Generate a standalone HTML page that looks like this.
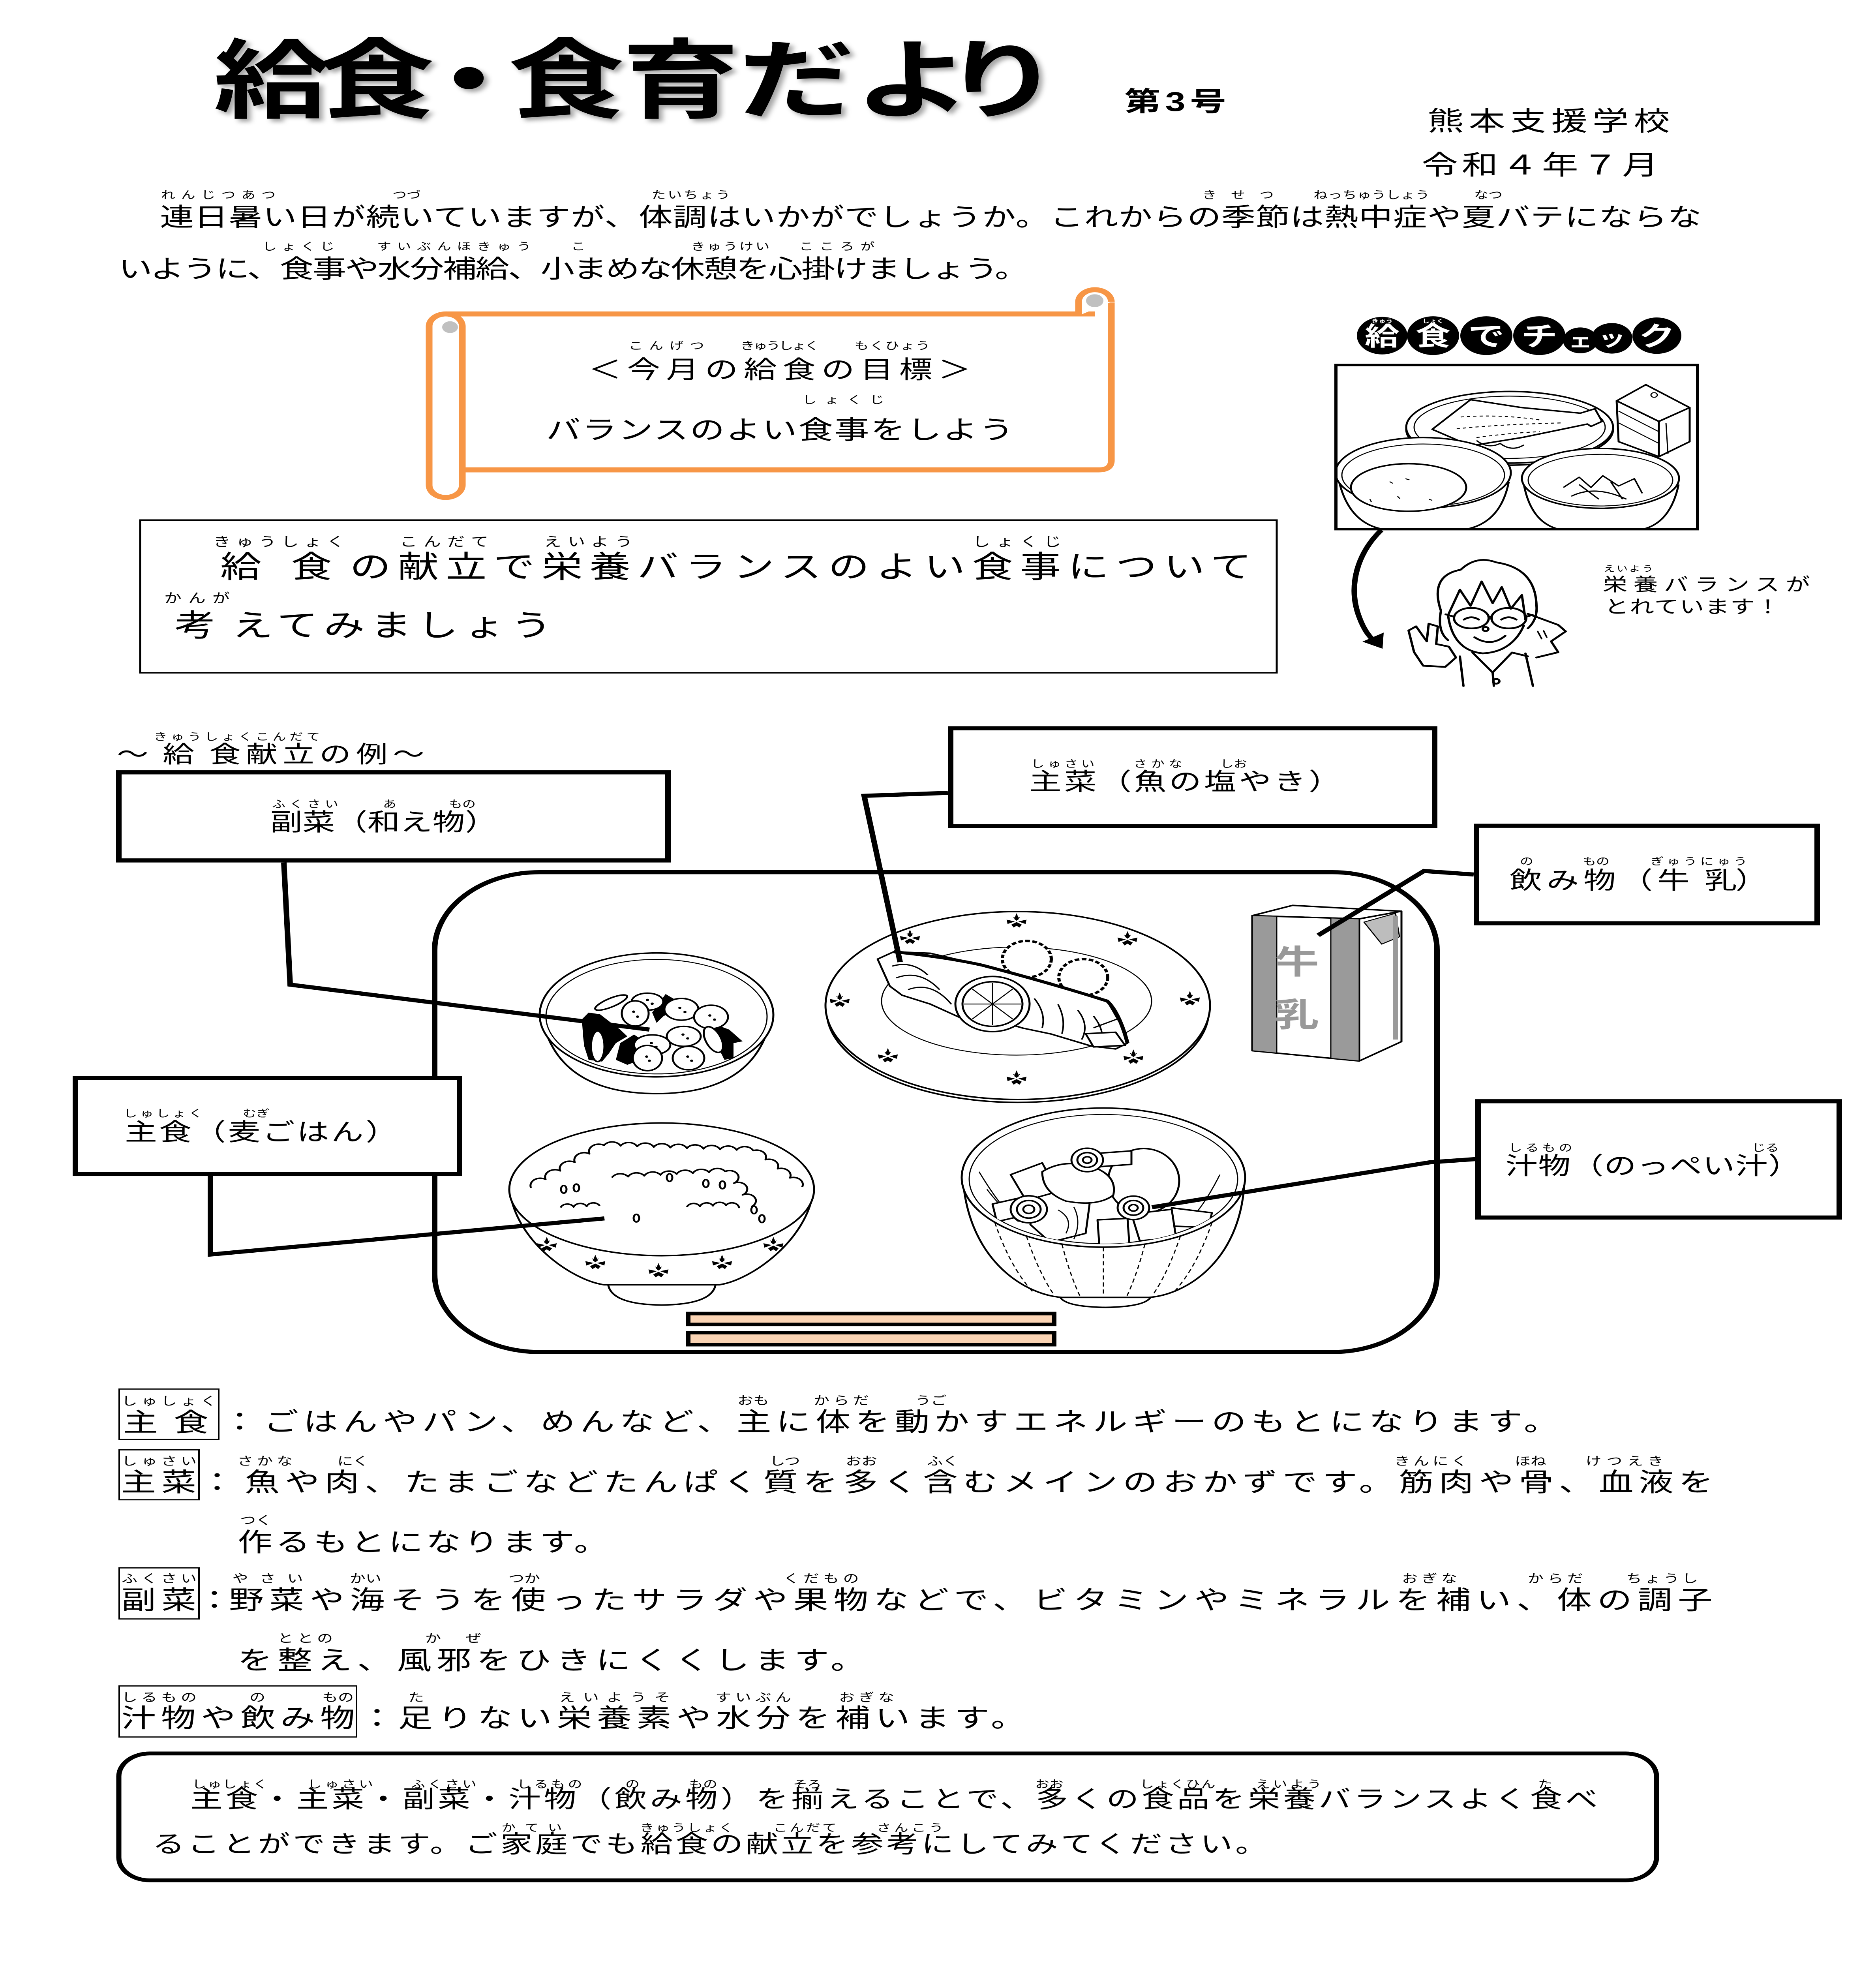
<!DOCTYPE html>
<html><head><meta charset="utf-8">
<style>
html,body{margin:0;padding:0;background:#fff;width:100%;height:100%;overflow:hidden;}
svg{display:block;position:absolute;left:0;top:0;width:100vw;height:100vh;}
text{font-family:"Liberation Sans","Noto Sans CJK JP",sans-serif;fill:#000;}
.r text, text.r{text-anchor:middle;}
</style></head><body>
<svg xmlns="http://www.w3.org/2000/svg" xmlns:xlink="http://www.w3.org/1999/xlink" viewBox="0 0 4752 6722" preserveAspectRatio="none" overflow="hidden">
<defs>
<filter id="sh" x="-5%" y="-10%" width="115%" height="140%"><feDropShadow dx="10" dy="10" stdDeviation="7" flood-color="#000" flood-opacity="0.35"/></filter>
<symbol id="mo" viewBox="-30 -30 60 60" width="60" height="60"><path d="M0,-26 L5,-10 L0,-5 L-5,-10Z M-24,-6 L-7,-1 L-22,6Z M24,-6 L7,-1 L22,6Z M-12,10 L0,2 L12,10 L7,18 L0,12 L-7,18Z M-8,-16 L-3,-12 M8,-16 L3,-12" fill="#000" stroke="#000" stroke-width="2"/></symbol>
<clipPath id="pb"><rect x="3385" y="1244" width="914" height="557"/></clipPath>
<clipPath id="sb"><ellipse cx="2795" cy="4015" rx="340" ry="220"/></clipPath>
<clipPath id="rb"><ellipse cx="1676" cy="4050" rx="380" ry="220"/></clipPath>
</defs>
<rect width="4752" height="6722" fill="#fff"/>

<!-- TITLE -->
<text font-size="295" font-weight="bold" filter="url(#sh)" x="541 806 1040 1287 1577 1870 2165 2390" y="378">給食・食育だより</text>
<text x="2848" y="378" font-size="92" font-weight="bold" textLength="258" lengthAdjust="spacing">第3号</text>
<text x="3616" y="444" font-size="92" textLength="614" lengthAdjust="spacing">熊本支援学校</text>
<text x="3601" y="594" font-size="92" textLength="600" lengthAdjust="spacing">令和４年７月</text>

<!-- INTRO -->
<text x="405" y="770" font-size="86" textLength="3905" lengthAdjust="spacing">連日暑い日が続いていますが、体調はいかがでしょうか。これからの季節は熱中症や夏バテにならな</text>
<text x="300" y="946" font-size="86" textLength="2306" lengthAdjust="spacing">いように、食事や水分補給、小まめな休憩を心掛けましょう。</text>
<g class="r" font-size="36">
<text x="553" y="676" textLength="290">れんじつあつ</text>
<text x="1030" y="676">つづ</text>
<text x="1750" y="676" textLength="199">たいちょう</text>
<text x="3136" y="676" textLength="181">きせつ</text>
<text x="3474" y="676" textLength="294">ねっちゅうしょう</text>
<text x="3770" y="676">なつ</text>
<text x="756" y="852" textLength="182">しょくじ</text>
<text x="1150" y="852" textLength="390">すいぶんほきゅう</text>
<text x="1465" y="852">こ</text>
<text x="1850" y="852" textLength="199">きゅうけい</text>
<text x="2120" y="852" textLength="191">こころが</text>
</g>

<!-- SCROLL -->
<g fill="none" stroke="#F79646" stroke-width="17" stroke-linejoin="round">
<path d="M1129,1069 H2773 M2815,1030 V1568 Q2815,1600 2783,1600 H1171"/>
<path d="M2732,1075 V1028 A41.5,41.5 0 0 1 2815,1028" fill="#fff"/>
<rect x="1087" y="1069" width="84" height="625" rx="42" fill="#fff"/>
</g>
<circle cx="2773" cy="1024" r="22" fill="#C0C0C0"/>
<circle cx="1140" cy="1114" r="20" fill="#C0C0C0"/>
<text x="1490" y="1288" font-size="84" textLength="970" lengthAdjust="spacing">＜今月の給食の目標＞</text>
<text x="1383" y="1494" font-size="88" textLength="1185" lengthAdjust="spacing">バランスのよい食事をしよう</text>
<g class="r" font-size="36">
<text x="1688" y="1190" textLength="191">こんげつ</text>
<text x="1975" y="1190" textLength="199">きゅうしょく</text>
<text x="2260" y="1190" textLength="191">もくひょう</text>
<text x="2136" y="1374" textLength="207">しょくじ</text>
</g>

<!-- BOX 2 -->
<rect x="355" y="1771" width="2879" height="520" fill="none" stroke="#000" stroke-width="5"/>
<text x="558" y="1966" font-size="104">給</text>
<text x="737" y="1966" font-size="104">食</text>
<text x="886" y="1966" font-size="104" textLength="2284" lengthAdjust="spacing">の献立で栄養バランスのよい食事について</text>
<text x="442" y="2166" font-size="104">考</text>
<text x="588" y="2166" font-size="104" textLength="810" lengthAdjust="spacing">えてみましょう</text>
<g class="r" font-size="44">
<text x="706" y="1860" textLength="332">きゅうしょく</text>
<text x="1125" y="1860" textLength="224">こんだて</text>
<text x="1490" y="1860" textLength="224">えいよう</text>
<text x="2576" y="1860" textLength="224">しょくじ</text>
<text x="499" y="2052" textLength="166">かんが</text>
</g>

<!-- BADGE -->
<g fill="#000">
<circle cx="3501" cy="1143" r="64"/><circle cx="3630" cy="1143" r="66"/><circle cx="3765" cy="1143" r="66"/><circle cx="3899" cy="1143" r="66"/><circle cx="4003" cy="1159" r="44"/><circle cx="4083" cy="1152" r="52"/><circle cx="4197" cy="1143" r="62"/>
</g>
<g class="r" font-weight="bold">
<text x="3501" y="1176" font-size="88" style="fill:#fff">給</text>
<text x="3630" y="1176" font-size="88" style="fill:#fff">食</text>
<text x="3765" y="1178" font-size="92" style="fill:#fff">で</text>
<text x="3899" y="1178" font-size="92" style="fill:#fff">チ</text>
<text x="4003" y="1182" font-size="62" style="fill:#fff">ェ</text>
<text x="4083" y="1178" font-size="70" style="fill:#fff">ッ</text>
<text x="4197" y="1178" font-size="92" style="fill:#fff">ク</text>
<text x="3501" y="1100" font-size="18" style="fill:#fff">きゅう</text>
<text x="3630" y="1100" font-size="18" style="fill:#fff">しょく</text>
</g>

<!-- PICTURE BOX -->
<g clip-path="url(#pb)" stroke="#000" stroke-width="5" fill="#fff" stroke-linejoin="round">
<ellipse cx="3824" cy="1462" rx="262" ry="122"/>
<ellipse cx="3824" cy="1455" rx="262" ry="122"/>
<ellipse cx="3824" cy="1455" rx="242" ry="106" fill="none" stroke-width="3"/>
<polygon points="3628,1462 3725,1361 3855,1388 4003,1407 4040,1392 4058,1435 4030,1452 4021,1444 3855,1490 3725,1518"/>
<path d="M3700,1420 Q3800,1410 3900,1430 M3690,1460 Q3800,1445 3960,1440 M3740,1490 Q3820,1475 3900,1470" fill="none" stroke-width="3" stroke-dasharray="8 8"/>
<path d="M3740,1500 Q3770,1530 3800,1510 Q3830,1540 3860,1515" fill="none" stroke-width="4"/>
<polygon points="4095,1365 4169,1310 4280,1388 4202,1435"/>
<polygon points="4095,1365 4202,1435 4202,1555 4100,1504"/>
<polygon points="4202,1435 4280,1388 4280,1504 4202,1555"/>
<path d="M4100,1400 L4202,1470 M4100,1440 L4202,1510 M4220,1440 L4225,1545" fill="none" stroke-width="3"/>
<circle cx="4190" cy="1345" r="8" fill="none" stroke-width="3"/>
<path d="M3860,1650 Q3880,1790 3960,1805 L4150,1805 Q4230,1790 4252,1650" />
<ellipse cx="4054" cy="1629" rx="199" ry="102"/>
<ellipse cx="4054" cy="1635" rx="183" ry="88" fill="none" stroke-width="3"/>
<path d="M3960,1660 L4000,1625 L4030,1660 L4060,1620 L4100,1655 L4140,1630 L4160,1680 M3980,1690 Q4040,1650 4120,1700 M4000,1650 L4050,1700 M4080,1640 L4110,1700" fill="none" stroke-width="4"/>
<path d="M3392,1640 Q3420,1795 3520,1805 L3700,1805 Q3800,1790 3822,1640"/>
<ellipse cx="3605" cy="1610" rx="222" ry="120"/>
<ellipse cx="3605" cy="1618" rx="206" ry="106" fill="none" stroke-width="3"/>
<ellipse cx="3568" cy="1660" rx="146" ry="81"/>
<path d="M3520,1640 l8,6 M3560,1630 l10,4 M3540,1690 l6,8 M3620,1700 l8,4 M3470,1700 l4,10" stroke-width="3"/>
</g>
<rect x="3384" y="1243" width="916" height="559" fill="none" stroke="#000" stroke-width="8"/>

<!-- ARROW -->
<path d="M3499,1805 C3440,1880 3415,1990 3440,2090 C3450,2130 3462,2158 3476,2176" stroke="#000" stroke-width="14" fill="none"/>
<polygon points="3451,2185 3505,2154 3502,2209" fill="#000"/>

<!-- CHARACTER -->
<g fill="none" stroke="#000" stroke-width="6" stroke-linecap="round" stroke-linejoin="round">
<path d="M3650,2080 Q3620,1960 3700,1940 Q3740,1890 3790,1915 Q3890,1935 3892,2063 Q3895,2110 3870,2140"/>
<path d="M3668,2095 L3698,2008 L3725,2063 L3753,1980 L3781,2054 L3804,1999 L3827,2073 L3855,2026 L3864,2110"/>
<path d="M3668,2095 Q3680,2215 3756,2225 Q3830,2220 3860,2130"/>
<ellipse cx="3727" cy="2105" rx="44" ry="35"/>
<ellipse cx="3822" cy="2105" rx="44" ry="35"/>
<path d="M3771,2100 L3778,2100 M3683,2100 L3662,2092 M3866,2100 L3882,2094"/>
<path d="M3708,2110 Q3727,2094 3746,2110 M3803,2110 Q3822,2094 3841,2110"/>
<circle cx="3763" cy="2142" r="7"/>
<path d="M3735,2170 Q3776,2205 3813,2165"/>
<path d="M3870,2090 L3947,2128 L3966,2150 L3929,2184 L3947,2221 L3892,2239"/>
<path d="M3650,2080 Q3640,2150 3668,2180"/>
<path d="M3605,2267 L3582,2221 L3568,2147 L3587,2133 L3614,2184 L3619,2124 L3642,2133 L3638,2193 L3670,2202 L3688,2239 L3661,2271 Z"/>
<path d="M3698,2235 L3707,2336 M3730,2222 L3781,2290 L3830,2222 M3781,2290 L3784,2336 M3864,2225 L3883,2336 M3830,2222 L3870,2235"/>
<circle cx="3790" cy="2320" r="8"/>
<path d="M3895,2150 l10,25 M3910,2148 l8,22" stroke-width="4"/>
</g>
<text x="4060" y="2012" font-size="62" textLength="525" lengthAdjust="spacing">栄養バランスが</text>
<text x="4064" y="2088" font-size="62" textLength="445" lengthAdjust="spacing">とれています！</text>
<text class="r" x="4125" y="1946" font-size="28" textLength="125">えいよう</text>

<!-- MENU EXAMPLE TITLE -->
<text x="296" y="2597" font-size="80" textLength="196" lengthAdjust="spacing">〜給</text>
<text x="530" y="2597" font-size="80" textLength="545" lengthAdjust="spacing">食献立の例〜</text>
<text class="r" x="600" y="2521" font-size="34" textLength="421">きゅうしょくこんだて</text>

<!-- TRAY -->
<rect x="1101" y="2970" width="2539" height="1634" rx="265" fill="none" stroke="#000" stroke-width="14"/>

<!-- AEMONO BOWL -->
<g stroke="#000" stroke-width="5" fill="#fff" stroke-linejoin="round">
<path d="M1375,3480 Q1420,3724 1663,3724 Q1906,3724 1951,3480"/>
<ellipse cx="1663" cy="3456" rx="296" ry="211"/>
<ellipse cx="1663" cy="3462" rx="280" ry="195" fill="none" stroke-width="3"/>
<g fill="#000" stroke="none">
<polygon points="1474,3471 1491,3448 1520,3454 1548,3483 1571,3506 1589,3529 1560,3552 1543,3586 1525,3615 1491,3609 1480,3563 1477,3529"/>
<polygon points="1686,3385 1709,3403 1738,3397 1744,3420 1681,3460 1663,3483 1652,3448"/>
<polygon points="1801,3483 1847,3506 1881,3546 1858,3552 1858,3603 1835,3609 1818,3563"/>
<polygon points="1571,3552 1606,3523 1652,3563 1623,3609 1589,3626 1560,3609"/>
</g>
<ellipse cx="1548" cy="3414" rx="46" ry="14" transform="rotate(-30 1548 3414)"/>
<ellipse cx="1640" cy="3411" rx="40" ry="29"/>
<ellipse cx="1609" cy="3451" rx="34" ry="43"/>
<ellipse cx="1726" cy="3437" rx="43" ry="37"/>
<ellipse cx="1801" cy="3463" rx="43" ry="40"/>
<ellipse cx="1732" cy="3529" rx="43" ry="34"/>
<ellipse cx="1514" cy="3563" rx="17" ry="52"/>
<ellipse cx="1807" cy="3540" rx="20" ry="46" transform="rotate(-20 1807 3540)"/>
<ellipse cx="1652" cy="3558" rx="46" ry="34"/>
<ellipse cx="1640" cy="3603" rx="37" ry="43"/>
<ellipse cx="1744" cy="3603" rx="40" ry="40"/>
<g fill="#000" stroke="none">
<circle cx="1640" cy="3405" r="4"/><circle cx="1652" cy="3418" r="4"/><circle cx="1605" cy="3445" r="4"/><circle cx="1615" cy="3462" r="4"/><circle cx="1722" cy="3432" r="4"/><circle cx="1735" cy="3446" r="4"/><circle cx="1798" cy="3458" r="4"/><circle cx="1810" cy="3472" r="4"/><circle cx="1730" cy="3523" r="4"/><circle cx="1742" cy="3536" r="4"/><circle cx="1650" cy="3552" r="4"/><circle cx="1662" cy="3565" r="4"/><circle cx="1638" cy="3598" r="4"/><circle cx="1645" cy="3612" r="4"/><circle cx="1742" cy="3598" r="4"/><circle cx="1752" cy="3612" r="4"/>
</g>
</g>

<!-- FISH PLATE -->
<g stroke="#000" stroke-width="5" fill="#fff" stroke-linejoin="round">
<ellipse cx="2578" cy="3442" rx="484" ry="312"/>
<ellipse cx="2578" cy="3424" rx="487" ry="320"/>
<ellipse cx="2575" cy="3409" rx="342" ry="184" fill="none" stroke-width="3"/>
<circle cx="2601" cy="3266" r="62" stroke-dasharray="12 6" stroke-width="8"/>
<circle cx="2744" cy="3328" r="62" stroke-dasharray="12 6" stroke-width="8"/>
<polygon points="2223,3266 2264,3241 2356,3246 2489,3287 2662,3348 2805,3409 2836,3481 2856,3552 2826,3572 2764,3562 2662,3521 2591,3501 2540,3481 2458,3481 2356,3419 2285,3389 2254,3358"/>
<path d="M2264,3241 Q2400,3260 2489,3287 Q2662,3348 2805,3409 Q2836,3450 2856,3552" fill="none" stroke-width="10"/>
<path d="M2260,3290 Q2310,3270 2350,3320 M2270,3330 Q2330,3300 2380,3370 M2300,3370 Q2360,3340 2410,3420 M2620,3400 Q2650,3450 2640,3500 M2680,3420 Q2700,3470 2690,3520 M2730,3440 Q2760,3490 2740,3540 M2770,3460 Q2800,3510 2790,3560 M2770,3500 L2830,3470" fill="none" stroke-width="4"/>
<polygon points="2750,3520 2826,3515 2850,3560 2770,3565"/>
<circle cx="2514" cy="3419" r="94"/>
<circle cx="2514" cy="3419" r="76" fill="none"/>
<path d="M2514,3419 L2586,3419 M2514,3419 L2565,3470 M2514,3419 L2514,3491 M2514,3419 L2463,3470 M2514,3419 L2442,3419 M2514,3419 L2463,3368 M2514,3419 L2514,3347 M2514,3419 L2565,3368" stroke-width="3"/>
</g>
<use xlink:href="#mo" x="2545" y="3109"/><use xlink:href="#mo" x="2826" y="3170"/><use xlink:href="#mo" x="2984" y="3374"/><use xlink:href="#mo" x="2841" y="3573"/><use xlink:href="#mo" x="2545" y="3644"/><use xlink:href="#mo" x="2219" y="3568"/><use xlink:href="#mo" x="2097" y="3379"/><use xlink:href="#mo" x="2275" y="3165"/>

<!-- MILK CARTON -->
<g stroke="#000" stroke-width="5" stroke-linejoin="round">
<polygon points="3172,3118 3274,3083 3550,3103 3443,3129" fill="#fff"/>
<polygon points="3443,3129 3550,3103 3550,3547 3443,3613" fill="#fff"/>
<polygon points="3172,3118 3443,3129 3443,3613 3172,3578" fill="#fff"/>
<polygon points="3172,3118 3234,3120 3234,3586 3172,3578" fill="#9a9a9a" stroke-width="3"/>
<polygon points="3371,3126 3443,3129 3443,3613 3371,3604" fill="#9a9a9a" stroke-width="3"/>
<polygon points="3455,3140 3535,3110 3545,3190 3500,3215" fill="#bdbdbd" stroke-width="3"/>
<path d="M3535,3120 L3535,3540" stroke="#9a9a9a" stroke-width="12"/>
</g>
<text class="r" x="3285" y="3315" font-size="112" font-weight="bold" style="fill:#999">牛</text>
<text class="r" x="3285" y="3495" font-size="112" font-weight="bold" style="fill:#999">乳</text>

<!-- RICE BOWL -->
<g stroke="#000" stroke-width="5" fill="#fff" stroke-linejoin="round">
<path d="M1540,4370 Q1545,4442 1676,4444 Q1808,4442 1813,4370"/>
<path d="M1292,4060 C1310,4230 1450,4360 1530,4375 L1822,4375 C1900,4360 2040,4230 2060,4060"/>
<ellipse cx="1676" cy="4050" rx="386" ry="226"/>
<g clip-path="url(#rb)" fill="none" stroke-width="5">
<path d="M1345,4045 a25,25 0 0 1 37,-29 a25,25 0 0 1 37,-29 a25,25 0 0 1 37,-29 a25,25 0 0 1 37,-29 a25,25 0 0 1 37,-29 a24,24 0 0 1 42,2 a24,24 0 0 1 42,2 a24,24 0 0 1 42,2 a24,24 0 0 1 42,2 a24,24 0 0 1 42,2 a24,24 0 0 1 42,2 a24,24 0 0 1 42,2 a24,24 0 0 1 42,2 a24,24 0 0 1 42,2 a24,24 0 0 1 31,31 a24,24 0 0 1 31,31 a24,24 0 0 1 31,31 a24,24 0 0 1 31,31"/>
<path d="M1550,4010 a24,24 0 0 1 41,-3 a24,24 0 0 1 41,-3 a24,24 0 0 1 41,-3 a24,24 0 0 1 41,-3 a24,24 0 0 1 41,-3 a24,24 0 0 1 41,-3 a24,24 0 0 1 41,-3 a22,22 0 0 1 22,40 a22,22 0 0 1 22,40 a22,22 0 0 1 22,40"/>
<path d="M1420,4112 a18,18 0 0 1 33,-2 a18,18 0 0 1 33,-2 a18,18 0 0 1 33,-2"/>
<path d="M1740,4110 a18,18 0 0 1 33,-2 a18,18 0 0 1 33,-2 a18,18 0 0 1 33,-2 a18,18 0 0 1 33,10"/>
<ellipse cx="1428" cy="4050" rx="7" ry="13"/><ellipse cx="1460" cy="4045" rx="7" ry="13"/><ellipse cx="1612" cy="4148" rx="7" ry="13"/><ellipse cx="1696" cy="4010" rx="7" ry="13"/><ellipse cx="1788" cy="4030" rx="7" ry="13"/><ellipse cx="1830" cy="4035" rx="7" ry="13"/><ellipse cx="1910" cy="4120" rx="7" ry="13"/><ellipse cx="1930" cy="4150" rx="7" ry="13"/>
</g>
</g>
<use xlink:href="#mo" x="1355" y="4211"/><use xlink:href="#mo" x="1478" y="4272"/><use xlink:href="#mo" x="1638" y="4300"/><use xlink:href="#mo" x="1799" y="4272"/><use xlink:href="#mo" x="1929" y="4211"/>

<!-- SOUP BOWL -->
<g stroke="#000" stroke-width="5" fill="#fff" stroke-linejoin="round">
<path d="M2683,4410 Q2690,4450 2800,4452 Q2910,4450 2917,4410"/>
<path d="M2440,4030 C2460,4300 2600,4410 2690,4418 L2910,4418 C3000,4410 3140,4300 3152,4030"/>
<g fill="none" stroke-width="3" stroke-dasharray="14 10">
<path d="M2520,4163 Q2560,4320 2620,4405"/><path d="M2600,4209 Q2630,4330 2670,4410"/><path d="M2690,4237 Q2710,4340 2735,4412"/><path d="M2795,4247 L2795,4415"/><path d="M2900,4237 Q2880,4340 2855,4412"/><path d="M2990,4209 Q2960,4330 2920,4410"/><path d="M3070,4163 Q3030,4320 2970,4405"/>
</g>
<ellipse cx="2795" cy="4010" rx="359" ry="237"/>
<ellipse cx="2795" cy="4015" rx="340" ry="220" fill="none" stroke-width="3"/>
<g clip-path="url(#sb)">
<path d="M2480,3990 Q2520,4080 2560,4140 M2500,4050 Q2540,4120 2580,4160 M3090,4000 Q3060,4080 3030,4130" fill="none" stroke-width="3"/>
<ellipse cx="2897" cy="4021" rx="90" ry="110"/>
<polygon points="2560,4000 2640,3960 2680,4060 2600,4090"/>
<polygon points="2620,4080 2700,4050 2760,4100 2750,4200 2660,4230 2610,4170"/>
<path d="M2640,3990 Q2700,3940 2780,3980 Q2830,4010 2820,4070 Q2780,4110 2700,4090 Q2640,4060 2640,3990Z"/>
<polygon points="2764,3929 2866,3919 2866,3965 2764,3975"/>
<polygon points="2514,4100 2580,4080 2590,4140 2525,4160"/>
<polygon points="2968,4113 3070,4130 3060,4180 2968,4175"/>
<polygon points="2780,4154 2856,4149 2861,4241 2785,4246"/>
<polygon points="2866,4134 2968,4118 2979,4215 2887,4225"/>
<circle cx="2606" cy="4118" r="46"/><circle cx="2606" cy="4118" r="30" fill="none"/><circle cx="2606" cy="4118" r="14" fill="none"/>
<circle cx="2871" cy="4113" r="40"/><circle cx="2871" cy="4113" r="25" fill="none"/><circle cx="2871" cy="4113" r="11" fill="none"/>
<circle cx="2754" cy="3950" r="40"/><circle cx="2754" cy="3950" r="25" fill="none"/><circle cx="2754" cy="3950" r="11" fill="none"/>
<path d="M2680,4120 Q2720,4150 2700,4200 M2720,4110 Q2740,4160 2720,4220" fill="none" stroke-width="3"/>
</g>
</g>

<!-- CHOPSTICKS -->
<rect x="1743" y="4473" width="927" height="37" fill="#FBD4B4" stroke="#000" stroke-width="12"/>
<rect x="1743" y="4538" width="927" height="41" fill="#FBD4B4" stroke="#000" stroke-width="12"/>

<!-- MENU BOXES -->
<g fill="#fff" stroke="#000" stroke-width="14">
<rect x="301" y="2630" width="1391" height="300"/>
<rect x="191" y="3671" width="973" height="327"/>
<rect x="2408" y="2480" width="1226" height="333"/>
<rect x="3740" y="2812" width="863" height="332"/>
<rect x="3744" y="3750" width="915" height="396"/>
</g>
<!-- CONNECTORS -->
<g fill="none" stroke="#000" stroke-width="14" stroke-linejoin="miter">
<polyline points="719,2937 735,3353 1645,3506"/>
<polyline points="533,4005 533,4272 1531,4149"/>
<polyline points="2401,2700 2189,2710 2280,3276"/>
<polyline points="3733,2978 3607,2966 3339,3185"/>
<polyline points="3737,3947 3622,3958 2918,4111"/>
</g>
<text x="684" y="2828" font-size="82" textLength="576" lengthAdjust="spacing">副菜（和え物）</text>
<text x="316" y="3883" font-size="82" textLength="692" lengthAdjust="spacing">主食（麦ごはん）</text>
<text x="2607" y="2690" font-size="82" textLength="790" lengthAdjust="spacing">主菜（魚の塩やき）</text>
<text x="3824" y="3026" font-size="82" textLength="456" lengthAdjust="spacing">飲み物（牛</text>
<text x="4318" y="3026" font-size="82" textLength="160" lengthAdjust="spacing">乳）</text>
<text x="3813" y="3998" font-size="82" textLength="748" lengthAdjust="spacing">汁物（のっぺい汁）</text>
<g class="r" font-size="34">
<text x="773" y="2750" textLength="168">ふくさい</text><text x="987" y="2750">あ</text><text x="1171" y="2750">もの</text>
<text x="413" y="3803" textLength="199">しゅしょく</text><text x="649" y="3803">むぎ</text>
<text x="2692" y="2613" textLength="161">しゅさい</text><text x="2933" y="2613" textLength="123">さかな</text><text x="3125" y="2613">しお</text>
<text x="3867" y="2945">の</text><text x="4043" y="2945">もの</text><text x="4303" y="2945" textLength="245">ぎゅうにゅう</text>
<text x="3902" y="3920" textLength="161">しるもの</text><text x="4472" y="3920">じる</text>
</g>

<!-- DEFINITIONS -->
<g fill="none" stroke="#000" stroke-width="4">
<rect x="302" y="4730" width="252" height="172"/>
<rect x="302" y="4937" width="202" height="170"/>
<rect x="302" y="5339" width="202" height="174"/>
<rect x="302" y="5741" width="601" height="174"/>
</g>
<g font-size="88">
<text x="312 440" y="4874">主食</text>
<text x="563" y="4872">：</text>
<text x="668" y="4872" textLength="3280" lengthAdjust="spacing">ごはんやパン、めんなど、主に体を動かすエネルギーのもとになります。</text>
<text x="307" y="5078" textLength="190" lengthAdjust="spacing">主菜</text>
<text x="506" y="5078">：</text>
<text x="620" y="5078" textLength="3720" lengthAdjust="spacing">魚や肉、たまごなどたんぱく質を多く含むメインのおかずです。筋肉や骨、血液を</text>
<text x="602" y="5282" textLength="940" lengthAdjust="spacing">作るもとになります。</text>
<text x="307" y="5479" textLength="190" lengthAdjust="spacing">副菜</text>
<text x="499" y="5479">：</text>
<text x="580" y="5479" textLength="3758" lengthAdjust="spacing">野菜や海そうを使ったサラダや果物などで、ビタミンやミネラルを補い、体の調子</text>
<text x="602" y="5684" textLength="1590" lengthAdjust="spacing">を整え、風邪をひきにくくします。</text>
<text x="307" y="5881" textLength="592" lengthAdjust="spacing">汁物や飲み物</text>
<text x="911" y="5881">：</text>
<text x="1008" y="5881" textLength="1590" lengthAdjust="spacing">足りない栄養素や水分を補います。</text>
</g>
<g class="r" font-size="40">
<text x="428" y="4785" textLength="240">しゅしょく</text>
<text x="1908" y="4783">おも</text><text x="2131" y="4783" textLength="140">からだ</text><text x="2358" y="4783">うご</text>
<text x="403" y="4989" textLength="190">しゅさい</text>
<text x="671" y="4989" textLength="140">さかな</text><text x="894" y="4989">にく</text><text x="1988" y="4989">しつ</text><text x="2182" y="4989">おお</text><text x="2388" y="4989">ふく</text><text x="3624" y="4989" textLength="185">きんにく</text><text x="3877" y="4989">ほね</text><text x="4115" y="4989" textLength="197">けつえき</text>
<text x="648" y="5191">つく</text>
<text x="403" y="5389" textLength="190">ふくさい</text>
<text x="678" y="5389" textLength="179">やさい</text><text x="926" y="5389">かい</text><text x="1328" y="5389">つか</text><text x="2080" y="5389" textLength="191">くだもの</text><text x="3621" y="5389" textLength="140">おぎな</text><text x="3940" y="5389" textLength="140">からだ</text><text x="4210" y="5389" textLength="182">ちょうし</text>
<text x="773" y="5593" textLength="140">ととの</text><text x="1148" y="5593" textLength="142">かぜ</text>
<text x="403" y="5794" textLength="190">しるもの</text><text x="652" y="5794">の</text><text x="856" y="5794">もの</text>
<text x="1054" y="5794">た</text><text x="1557" y="5794" textLength="281">えいようそ</text><text x="1908" y="5794" textLength="192">すいぶん</text><text x="2195" y="5794" textLength="140">おぎな</text>
</g>

<!-- SUMMARY BOX -->
<rect x="301" y="5971" width="3895" height="432" rx="78" fill="none" stroke="#000" stroke-width="13"/>
<text x="482" y="6155" font-size="82" textLength="3565" lengthAdjust="spacing">主食・主菜・副菜・汁物（飲み物）を揃えることで、多くの食品を栄養バランスよく食べ</text>
<text x="386" y="6308" font-size="82" textLength="2825" lengthAdjust="spacing">ることができます。ご家庭でも給食の献立を参考にしてみてください。</text>
<g class="r" font-size="36">
<text x="582" y="6088" textLength="191">しゅしょく</text><text x="862" y="6088" textLength="166">しゅさい</text><text x="1124" y="6088" textLength="166">ふくさい</text><text x="1392" y="6088" textLength="165">しるもの</text><text x="1602" y="6088">の</text><text x="1781" y="6088">もの</text><text x="2045" y="6088">そろ</text><text x="2658" y="6088">おお</text><text x="2983" y="6088" textLength="191">しょくひん</text><text x="3264" y="6088" textLength="166">えいよう</text><text x="3914" y="6088">た</text>
<text x="1347" y="6237" textLength="153">かてい</text><text x="1739" y="6237" textLength="236">きゅうしょく</text><text x="2039" y="6237" textLength="160">こんだて</text><text x="2305" y="6237" textLength="169">さんこう</text>
</g>
</svg>
</body></html>
